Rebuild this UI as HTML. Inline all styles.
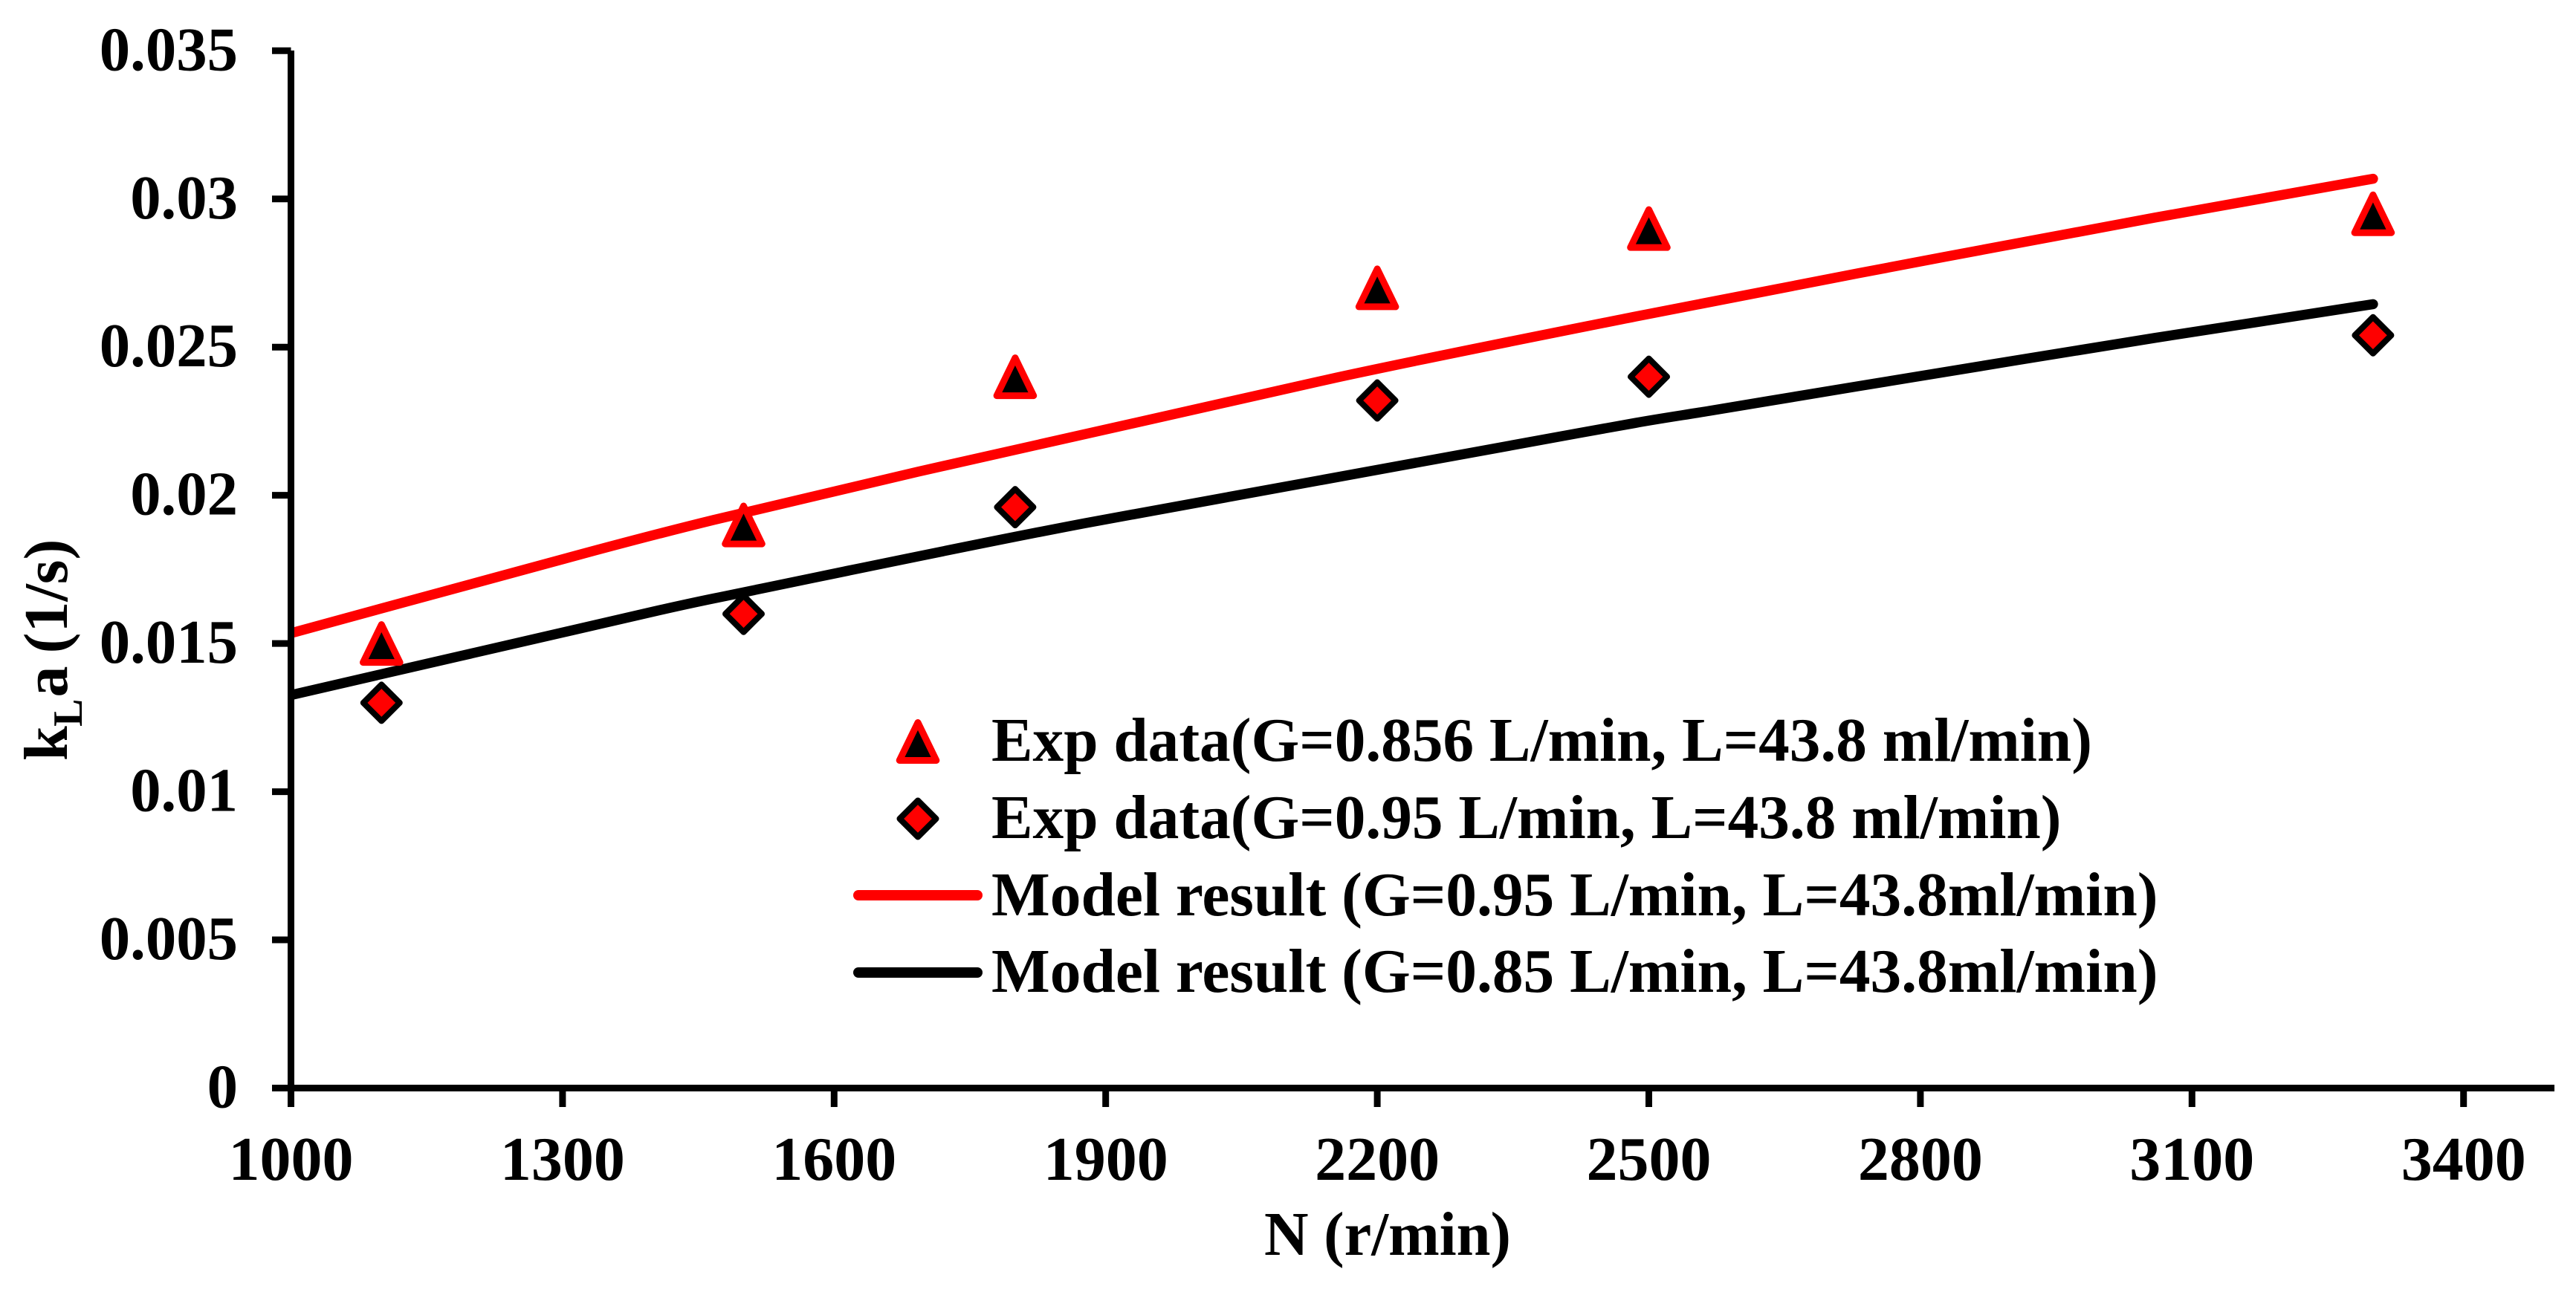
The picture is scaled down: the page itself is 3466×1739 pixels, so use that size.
<!DOCTYPE html>
<html lang="en">
<head>
<meta charset="utf-8">
<title>kLa versus N chart</title>
<style>
html,body{margin:0;padding:0;background:#fff;}
svg{display:block;}
text{font-family:"Liberation Serif",serif;font-weight:bold;font-size:84px;fill:#000;}
</style>
</head>
<body>
<svg id="chart" xmlns="http://www.w3.org/2000/svg" width="3466" height="1739" viewBox="0 0 3466 1739">
  <rect x="0" y="0" width="3466" height="1739" fill="#fff"/>
  <defs>
    <clipPath id="plot-clip"><rect x="391" y="0" width="3075" height="1739"/></clipPath>
  </defs>
  <g id="lines" clip-path="url(#plot-clip)"></g>
  <g id="axes"></g>
  <g id="markers"></g>
  <g id="labels"></g>

  <text x="1701" y="1689" textLength="332" lengthAdjust="spacingAndGlyphs">N (r/min)</text>
  <text transform="translate(90,1024) rotate(-90)"><tspan x="0" y="0">k</tspan><tspan x="46" y="20" style="font-size:56px">L</tspan><tspan x="85.5" y="0">a</tspan><tspan x="144.5" y="0">(1/s)</tspan></text>

  <g>
    <g>
      <path transform="translate(1235,998)" d="M0,-25.5 L24.8,25.5 L-24.8,25.5 Z" fill="#000" stroke="#f00" stroke-width="9" stroke-linejoin="round"/>
      <text x="1334" y="1024" textLength="1481" lengthAdjust="spacingAndGlyphs">Exp data(G=0.856 L/min, L=43.8 ml/min)</text>
    </g>
    <g>
      <path transform="translate(1235,1102)" d="M0,-24.5 L24.5,0 L0,24.5 L-24.5,0 Z" fill="#f00" stroke="#000" stroke-width="8" stroke-linejoin="round"/>
      <text x="1334" y="1128" textLength="1439.5" lengthAdjust="spacingAndGlyphs">Exp data(G=0.95 L/min, L=43.8 ml/min)</text>
    </g>
    <g>
      <line x1="1155" y1="1205" x2="1315" y2="1205" stroke="#f00" stroke-width="14" stroke-linecap="round"/>
      <text x="1334" y="1232" textLength="1569.5" lengthAdjust="spacingAndGlyphs">Model result (G=0.95 L/min, L=43.8ml/min)</text>
    </g>
    <g>
      <line x1="1155" y1="1309" x2="1315" y2="1309" stroke="#000" stroke-width="14" stroke-linecap="round"/>
      <text x="1334" y="1335" textLength="1569.5" lengthAdjust="spacingAndGlyphs">Model result (G=0.85 L/min, L=43.8ml/min)</text>
    </g>
  </g>
</svg>
<script>
var xTickValues = [1000, 1300, 1600, 1900, 2200, 2500, 2800, 3100, 3400];
var yTickValues = [0, 0.005, 0.01, 0.015, 0.02, 0.025, 0.03, 0.035];
var xTickLabels = ["1000", "1300", "1600", "1900", "2200", "2500", "2800", "3100", "3400"];
var yTickLabels = ["0", "0.005", "0.01", "0.015", "0.02", "0.025", "0.03", "0.035"];

var expSpeeds = [1100, 1500, 1800, 2200, 2500, 3300];
var expTriangleValues = [0.015, 0.019, 0.024, 0.027, 0.029, 0.0295];
var expDiamondValues = [0.013, 0.016, 0.0196, 0.0232, 0.024, 0.0254];

var modelRedSpeeds = [1000, 1325, 1467, 1693, 2156, 2485, 2731, 3059, 3300];
var modelRedValues = [0.01535, 0.01805, 0.01917, 0.0208, 0.02398, 0.02603, 0.02749, 0.02937, 0.03068];
var modelBlackSpeeds = [1000, 1401, 1467, 1877, 2485, 2567, 2731, 3059, 3300];
var modelBlackValues = [0.01326, 0.01608, 0.01652, 0.01906, 0.02244, 0.02285, 0.02368, 0.02531, 0.02645];

var SVG_NS = "http://www.w3.org/2000/svg";
function xScale(v) { return 391.5 + (v - 1000) * 365.4 / 300; }
function yScale(v) { return 1464.5 - v * 1396.2 / 0.035; }
function make(tag, parent) {
  var el = document.createElementNS(SVG_NS, tag);
  parent.appendChild(el);
  return el;
}
function smoothPath(xs, ys) {
  var px = xs.map(xScale);
  var py = ys.map(yScale);
  var last = px.length - 1;
  function slope(i) {
    var a = Math.max(i - 1, 0);
    var b = Math.min(i + 1, last);
    return (py[b] - py[a]) / (px[b] - px[a]);
  }
  var d = "M" + px[0].toFixed(1) + "," + py[0].toFixed(1);
  for (var i = 0; i < last; i++) {
    var dx = (px[i + 1] - px[i]) / 3;
    d += " C" + (px[i] + dx).toFixed(1) + "," + (py[i] + slope(i) * dx).toFixed(1) +
         " " + (px[i + 1] - dx).toFixed(1) + "," + (py[i + 1] - slope(i + 1) * dx).toFixed(1) +
         " " + px[i + 1].toFixed(1) + "," + py[i + 1].toFixed(1);
  }
  return d;
}

var linesGroup = document.getElementById("lines");
var axesGroup = document.getElementById("axes");
var markersGroup = document.getElementById("markers");
var labelsGroup = document.getElementById("labels");

var blackLine = make("path", linesGroup);


blackLine.setAttribute("d", smoothPath(modelBlackSpeeds, modelBlackValues));
blackLine.setAttribute("fill", "none");
blackLine.setAttribute("stroke", "#000");
blackLine.setAttribute("stroke-width", "13.5");
blackLine.setAttribute("stroke-linecap", "round");
blackLine.setAttribute("stroke-linejoin", "round");

var redLine = make("path", linesGroup);


redLine.setAttribute("d", smoothPath(modelRedSpeeds, modelRedValues));
redLine.setAttribute("fill", "none");
redLine.setAttribute("stroke", "#f00");
redLine.setAttribute("stroke-width", "13.5");
redLine.setAttribute("stroke-linecap", "round");
redLine.setAttribute("stroke-linejoin", "round");

var yAxis = make("line", axesGroup);


yAxis.setAttribute("x1", xScale(1000));
yAxis.setAttribute("x2", xScale(1000));
yAxis.setAttribute("y1", 68);
yAxis.setAttribute("y2", 1490);
yAxis.setAttribute("stroke", "#000");
yAxis.setAttribute("stroke-width", "9");

var xAxis = make("line", axesGroup);


xAxis.setAttribute("x1", 366);
xAxis.setAttribute("x2", 3437);
xAxis.setAttribute("y1", yScale(0));
xAxis.setAttribute("y2", yScale(0));
xAxis.setAttribute("stroke", "#000");
xAxis.setAttribute("stroke-width", "9");

yTickValues.forEach(function (v, i) {
  var tick = make("line", axesGroup);
  
  
  tick.setAttribute("x1", 366);
  tick.setAttribute("x2", xScale(1000));
  tick.setAttribute("y1", yScale(v));
  tick.setAttribute("y2", yScale(v));
  tick.setAttribute("stroke", "#000");
  tick.setAttribute("stroke-width", "9");
  var label = make("text", labelsGroup);
  
  
  label.setAttribute("x", 320);
  label.setAttribute("y", yScale(v) + 26);
  label.setAttribute("text-anchor", "end");
  label.textContent = yTickLabels[i];
  label.setAttribute("textLength", (label.getComputedTextLength() * 0.985).toFixed(1));
  label.setAttribute("lengthAdjust", "spacingAndGlyphs");
});

xTickValues.forEach(function (v, i) {
  var tick = make("line", axesGroup);
  
  
  tick.setAttribute("x1", xScale(v));
  tick.setAttribute("x2", xScale(v));
  tick.setAttribute("y1", yScale(0));
  tick.setAttribute("y2", 1490);
  tick.setAttribute("stroke", "#000");
  tick.setAttribute("stroke-width", "9");
  var label = make("text", labelsGroup);
  
  
  label.setAttribute("x", xScale(v));
  label.setAttribute("y", 1588);
  label.setAttribute("text-anchor", "middle");
  label.textContent = xTickLabels[i];
});

expSpeeds.forEach(function (n, i) {
  var tri = make("path", markersGroup);
  
  
  tri.setAttribute("transform", "translate(" + xScale(n) + "," + yScale(expTriangleValues[i]) + ")");
  tri.setAttribute("d", "M0,-25.5 L24.8,25.5 L-24.8,25.5 Z");
  tri.setAttribute("fill", "#000");
  tri.setAttribute("stroke", "#f00");
  tri.setAttribute("stroke-width", "9");
  tri.setAttribute("stroke-linejoin", "round");
  var dia = make("path", markersGroup);
  
  
  dia.setAttribute("transform", "translate(" + xScale(n) + "," + yScale(expDiamondValues[i]) + ")");
  dia.setAttribute("d", "M0,-24.5 L24.5,0 L0,24.5 L-24.5,0 Z");
  dia.setAttribute("fill", "#f00");
  dia.setAttribute("stroke", "#000");
  dia.setAttribute("stroke-width", "8");
  dia.setAttribute("stroke-linejoin", "round");
});
</script>
</body>
</html>
